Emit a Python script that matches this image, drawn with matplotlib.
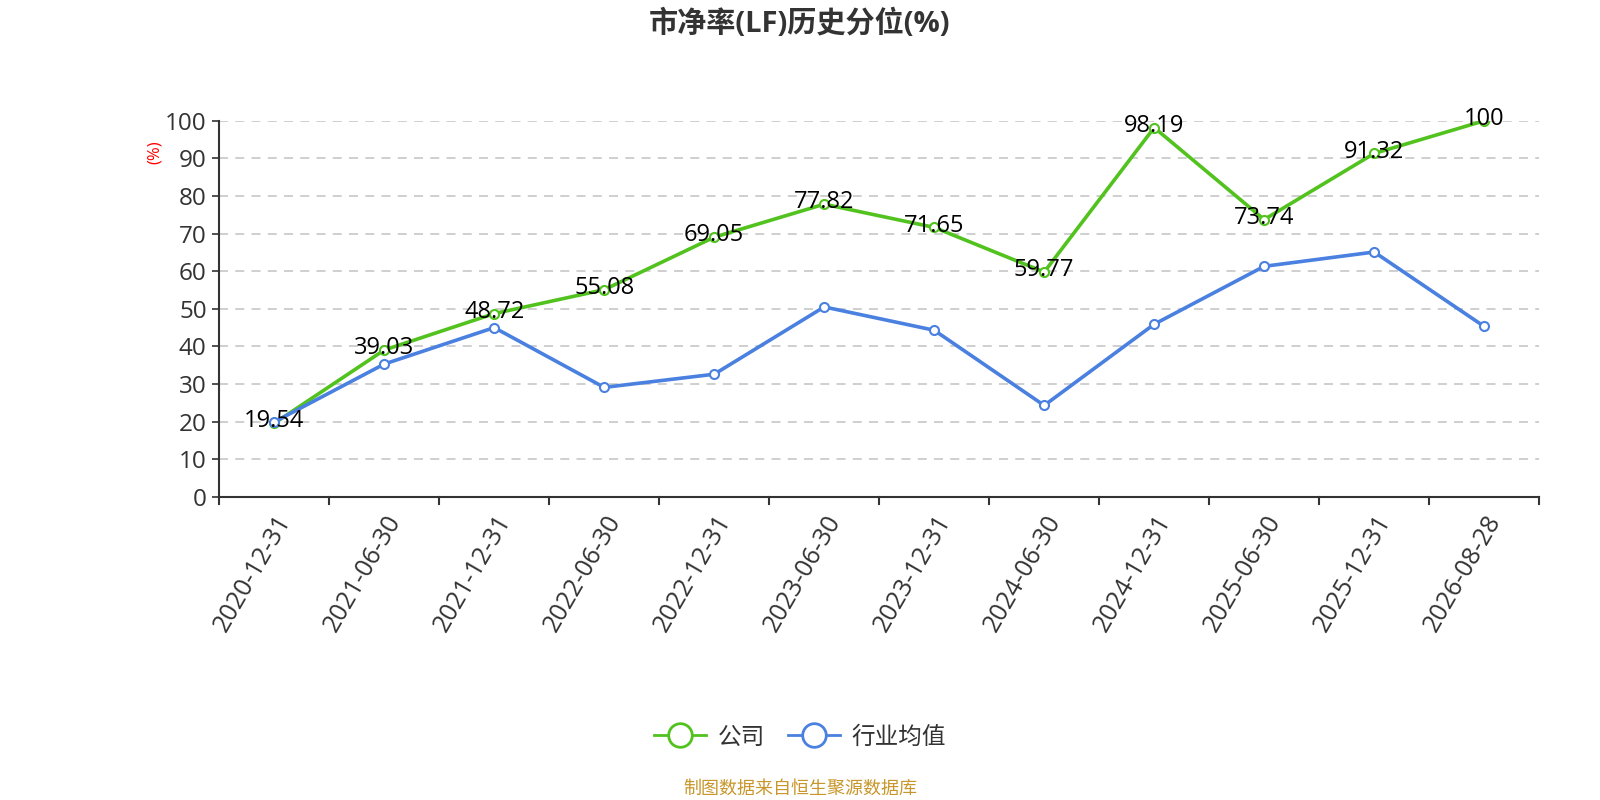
import numpy as np
import matplotlib
matplotlib.use('Agg')
import matplotlib.pyplot as plt
from matplotlib.lines import Line2D

plt.rcParams['font.family'] = ['Open Sans', 'Noto Sans CJK SC', 'DejaVu Sans']

dates = ['2020-12-31', '2021-06-30', '2021-12-31', '2022-06-30', '2022-12-31', '2023-06-30',
         '2023-12-31', '2024-06-30', '2024-12-31', '2025-06-30', '2025-12-31', '2026-08-28']
company = [19.54, 39.03, 48.72, 55.08, 69.05, 77.82, 71.65, 59.77, 98.19, 73.74, 91.32, 100]
industry = [19.9, 35.3, 45.0, 29.1, 32.6, 50.5, 44.3, 24.3, 45.9, 61.3, 65.1, 45.3]

green = '#52c21e'
blue = '#4a80e0'

fig = plt.figure(figsize=(16, 8), dpi=100)
ax = fig.add_axes([0.137, 0.379, 0.825, 0.470])

x = np.arange(len(dates))
ax.plot(x, company, color=green, lw=2.6, marker='o', ms=6.5, mfc='white', mec=green, mew=1.5, zorder=3)
ax.plot(x, industry, color=blue, lw=2.6, marker='o', ms=6.5, mfc='white', mec=blue, mew=1.5, zorder=3)

for xi, v in zip(x, company):
    ax.text(xi, v + 0.5, f'{v:g}', ha='center', va='center', fontsize=17, color='black', zorder=4)

ax.set_xlim(-0.5, len(dates) - 0.5)
ax.set_ylim(0, 100)
ax.set_yticks(np.arange(0, 101, 10))
ax.tick_params(axis='y', labelsize=17.5, colors='#333333', length=5, width=1.2, direction='out', pad=4)
ax.set_xticks(x)
ax.set_xticklabels(dates, rotation=60, ha='right', rotation_mode='anchor', fontsize=18, color='#333333')
ax.tick_params(axis='x', length=0, pad=10)
# category boundary ticks
for b in np.arange(-0.5, len(dates), 1.0):
    ax.plot([b, b], [0, -2], color='#333333', lw=1.5, clip_on=False)

ax.grid(axis='y', color='#cccccc', linestyle=(0, (5, 4)), lw=1.3)
ax.set_axisbelow(True)
for s in ['top', 'right']:
    ax.spines[s].set_visible(False)
ax.spines['left'].set_color('#333333')
ax.spines['left'].set_linewidth(1.5)
ax.spines['bottom'].set_color('#333333')
ax.spines['bottom'].set_linewidth(1.5)

fig.text(0.5, 0.97, '市净率(LF)历史分位(%)', ha='center', va='center', fontsize=21,
         fontweight='bold', color='#333333')
fig.text(0.097, 0.81, '(%)', ha='center', va='center', rotation=90, fontsize=12, color='red')

handles = [Line2D([0], [0], color=green, lw=2, marker='o', ms=17, mfc='white', mec=green, mew=2),
           Line2D([0], [0], color=blue, lw=2, marker='o', ms=17, mfc='white', mec=blue, mew=2)]
fig.legend(handles, ['公司', '行业均值'], loc='center', bbox_to_anchor=(0.5, 0.078), ncol=2,
           frameon=False, fontsize=17, handlelength=2.2, columnspacing=1.0, handletextpad=0.5,
           labelcolor='#333333')

fig.text(0.5, 0.014, '制图数据来自恒生聚源数据库', ha='center', va='center', fontsize=13, color='#c8962a')

fig.savefig('out.png', dpi=100, facecolor='white')
